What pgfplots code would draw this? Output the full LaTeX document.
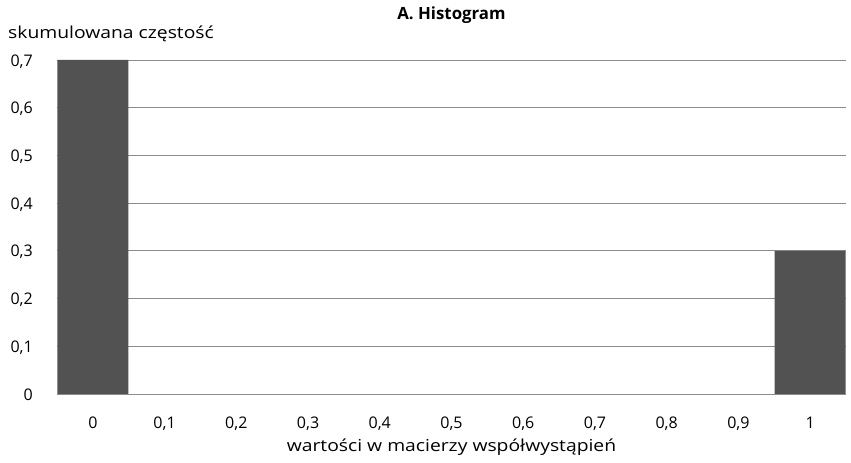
\documentclass[border=0pt]{standalone}
\usepackage{pgfplots}
\pgfplotsset{compat=1.18}
\usepackage{fontspec}
\setmainfont{Open Sans}
\newfontfamily\labelfont[FakeStretch=1.17]{Open Sans}
\definecolor{barfill}{HTML}{525252}
\definecolor{gridc}{HTML}{8C8C8C}
\begin{document}
\begin{tikzpicture}[font=\fontsize{16.5bp}{20bp}\selectfont]
\useasboundingbox (-57bp,-69bp) rectangle (794bp,394bp);
\begin{axis}[
    scale only axis,
    width=789bp, height=334bp,
    xmin=-0.5, xmax=10.5,
    ymin=0, ymax=0.7,
    ytick={0,0.1,...,0.7},
    xtick={0,...,10},
    xticklabels={0,{0,1},{0,2},{0,3},{0,4},{0,5},{0,6},{0,7},{0,8},{0,9},1},
    yticklabels={0,{0,1},{0,2},{0,3},{0,4},{0,5},{0,6},{0,7}},
    /pgf/number format/assume math mode=true,
    axis line style={draw=none},
    tick style={draw=none},
    ymajorgrids=true,
    grid style={gridc, line width=0.8pt},
    ticklabel style={font=\fontsize{16bp}{20bp}\selectfont, inner sep=0pt},
    yticklabel style={anchor=base east, xshift=-24bp, yshift=-6bp},
    xticklabel style={anchor=base, yshift=-34bp},
    title={\textbf{A. Histogram}},
    title style={font=\fontsize{16.8bp}{20bp}\selectfont, at={(axis description cs:0.5,1)}, anchor=base, inner sep=0pt, yshift=35bp},
    xlabel={wartości w macierzy współwystąpień},
    xlabel style={font=\labelfont\fontsize{16.5bp}{20bp}\selectfont, at={(axis description cs:0.5,0)}, anchor=base, inner sep=0pt, yshift=-57bp},
    ylabel={skumulowana częstość},
    ylabel style={font=\labelfont\fontsize{16.5bp}{20bp}\selectfont, rotate=-90, at={(axis description cs:0,1)}, anchor=base west, inner sep=0pt, xshift=-49bp, yshift=22bp},
]
\addplot[ybar, bar width=0.99, fill=barfill, draw=none] coordinates {
    (0,0.7) (1,0) (2,0) (3,0) (4,0) (5,0) (6,0) (7,0) (8,0) (9,0) (10,0.3)
};
\draw[gridc, line width=0.8pt] (rel axis cs:0,0) -- (rel axis cs:1,0);
\end{axis}
\end{tikzpicture}
\end{document}
